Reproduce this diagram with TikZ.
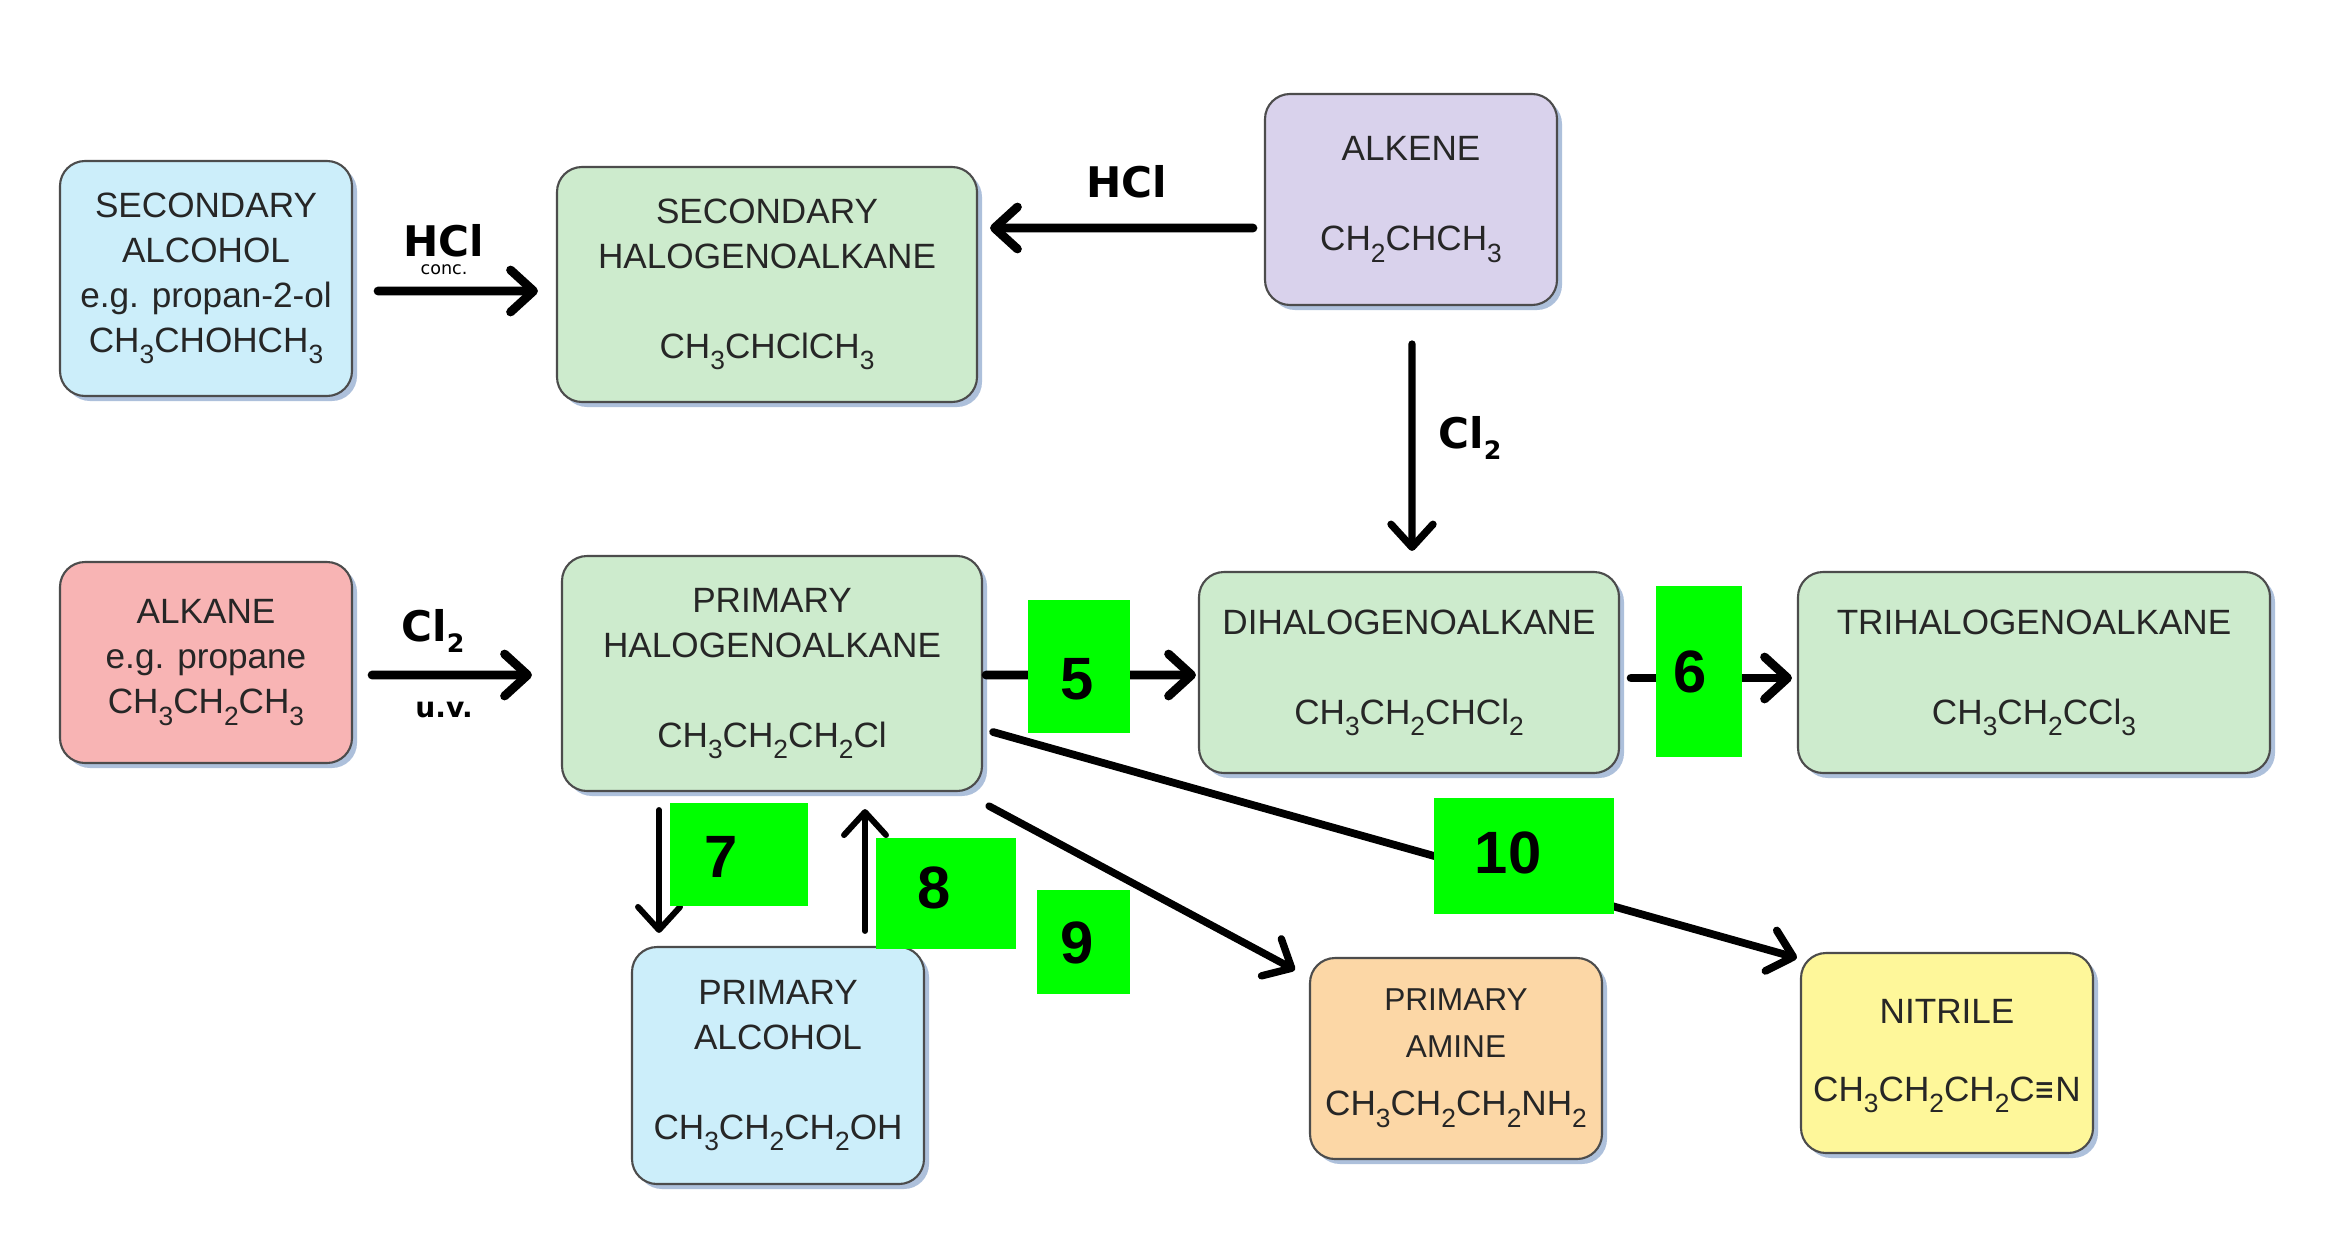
\documentclass[tikz,border=0pt]{standalone}
\usepackage{fontspec}
\setmainfont{Liberation Sans}
\newfontfamily\tagfont{DejaVu Sans}
\usetikzlibrary{arrows.meta,calc,shadows}

\definecolor{alcblue}{RGB}{204,238,250}
\definecolor{halgreen}{RGB}{205,235,205}
\definecolor{enepurple}{RGB}{217,210,236}
\definecolor{anepink}{RGB}{248,180,180}
\definecolor{amineorange}{RGB}{252,215,166}
\definecolor{nityellow}{RGB}{254,247,154}
\definecolor{stepgreen}{RGB}{0,255,0}
\definecolor{shadowblue}{RGB}{165,186,216}

% chemical subscript
\newcommand{\sbs}[1]{\raisebox{-0.6ex}{\scalebox{0.75}{#1}}}
\newcommand{\rsub}[1]{\raisebox{-0.45ex}{\scalebox{0.6}{#1}}}

\tikzset{
  compound/.style={draw=black!70, line width=0.6pt, rounded corners=0.25cm,
    align=center, inner sep=0pt, text=black!85, font=\fontsize{10}{12.8}\selectfont,
    drop shadow={shadow xshift=0.05cm, shadow yshift=-0.05cm, fill=shadowblue, opacity=0.9}},
  rxn/.style={line width=2.5pt, line cap=round, -{Straight Barb[round,length=2.3mm,width=4.2mm]}},
  thinrxn/.style={line width=1.7pt},
  reagent/.style={inner sep=0pt, font={\tagfont\bfseries\fontsize{12}{14}\selectfont}},
  stepbox/.style={fill=stepgreen, inner sep=0pt},
  stepnum/.style={inner sep=0pt, font={\bfseries\fontsize{17}{17}\selectfont}}
}

\begin{document}
\begin{tikzpicture}
\useasboundingbox[fill=white] (0,0) rectangle (23.36,-12.44);

% compounds
\node[compound, fill=alcblue, minimum width=2.92cm, minimum height=2.35cm] (salc) at (2.06,-2.785)
  {SECONDARY\\ALCOHOL\\e.g. propan-2-ol\\CH\sbs{3}CHOHCH\sbs{3}};
\node[compound, fill=halgreen, minimum width=4.20cm, minimum height=2.35cm] (shal) at (7.67,-2.845)
  {SECONDARY\\HALOGENOALKANE\\[12.8pt]CH\sbs{3}CHClCH\sbs{3}};
\node[compound, fill=enepurple, minimum width=2.92cm, minimum height=2.11cm] (alkene) at (14.11,-1.995)
  {ALKENE\\[12.8pt]CH\sbs{2}CHCH\sbs{3}};
\node[compound, fill=anepink, minimum width=2.92cm, minimum height=2.01cm] (alkane) at (2.06,-6.625)
  {ALKANE\\e.g. propane\\CH\sbs{3}CH\sbs{2}CH\sbs{3}};
\node[compound, fill=halgreen, minimum width=4.20cm, minimum height=2.35cm] (phal) at (7.72,-6.735)
  {PRIMARY\\HALOGENOALKANE\\[12.8pt]CH\sbs{3}CH\sbs{2}CH\sbs{2}Cl};
\node[compound, fill=halgreen, minimum width=4.20cm, minimum height=2.01cm] (dhal) at (14.09,-6.725)
  {DIHALOGENOALKANE\\[12.8pt]CH\sbs{3}CH\sbs{2}CHCl\sbs{2}};
\node[compound, fill=halgreen, minimum width=4.72cm, minimum height=2.01cm] (thal) at (20.34,-6.725)
  {TRIHALOGENOALKANE\\[12.8pt]CH\sbs{3}CH\sbs{2}CCl\sbs{3}};
\node[compound, fill=alcblue, minimum width=2.92cm, minimum height=2.37cm] (palc) at (7.78,-10.655)
  {PRIMARY\\ALCOHOL\\[12.8pt]CH\sbs{3}CH\sbs{2}CH\sbs{2}OH};
\node[compound, fill=amineorange, minimum width=2.92cm, minimum height=2.01cm,
  font=\fontsize{9}{13.5}\selectfont] (pamine) at (14.56,-10.585)
  {PRIMARY\\AMINE\\[3pt]{\fontsize{10}{12}\selectfont CH\sbs{3}CH\sbs{2}CH\sbs{2}NH\sbs{2}}\\[-10pt]\mbox{}};
\node[compound, fill=nityellow, minimum width=2.92cm, minimum height=2.00cm] (nitrile) at (19.47,-10.53)
  {\mbox{}\\[-4.2pt]NITRILE\\[9.5pt]CH\sbs{3}CH\sbs{2}CH\sbs{2}C{\tagfont\scalebox{0.7}[1]{≡}}N};

% reactions
\draw[rxn] ($(salc.east)+(0.25,-0.125)$) -- ($(shal.west)+(-0.18,-0.065)$);
\draw[rxn] ($(alkene.west)+(-0.11,-0.285)$) -- ($(shal.east)+(0.12,0.565)$);
\draw[rxn, line width=2.1pt] ($(alkene.south)+(0.01,-0.38)$) -- ($(dhal.north)+(0.03,0.20)$);
\draw[rxn] ($(alkane.east)+(0.19,-0.125)$) -- ($(phal.west)+(-0.29,-0.015)$);
\draw[rxn] ($(phal.east)+(0.03,-0.015)$) -- ($(dhal.west)+(-0.02,-0.025)$);
\draw[rxn] ($(dhal.east)+(0.11,-0.055)$) -- ($(thal.west)+(-0.05,-0.055)$);
\draw[rxn, thinrxn] ($(phal.south)+(-1.13,-0.18)$) -- ($(palc.north)+(-1.19,0.13)$);
\draw[rxn, thinrxn] ($(palc.north)+(0.87,0.15)$) -- ($(phal.south)+(0.93,-0.17)$);
\draw[rxn, line width=2.1pt] ($(phal.south east)+(0.06,-0.14)$) -- ($(pamine.north west)+(-0.14,-0.13)$);
\draw[rxn, line width=2.2pt] ($(phal.east)+(0.10,-0.585)$) -- ($(nitrile.north west)+(-0.03,-0.06)$);

% reagents
\node[reagent] (hcl1) at (4.44,-2.41) {HCl};
\node[inner sep=0pt, font={\tagfont\fontsize{5}{6}\selectfont}] (conc) at (4.44,-2.70) {conc.};
\node[reagent] (hcl2) at (11.27,-1.82) {HCl};
\node[reagent] (cl1) at (4.33,-6.31) {Cl\rsub{2}};
\node[reagent, font={\tagfont\bfseries\fontsize{8}{9}\selectfont}] (uv) at (4.44,-7.10) {u.v.};
\node[reagent] (cl2) at (14.70,-4.38) {Cl\rsub{2}};

% step numbers
\node[stepbox, minimum width=1.02cm, minimum height=1.33cm,
  label={[stepnum, xshift=-0.02cm, yshift=-0.13cm]center:5}] (s5) at (10.79,-6.665) {};
\node[stepbox, minimum width=0.86cm, minimum height=1.71cm,
  label={[stepnum, xshift=-0.09cm]center:6}] (s6) at (16.99,-6.715) {};
\node[stepbox, minimum width=1.38cm, minimum height=1.03cm,
  label={[stepnum, xshift=-0.18cm, yshift=-0.025cm]center:7}] (s7) at (7.39,-8.545) {};
\node[stepbox, minimum width=1.40cm, minimum height=1.11cm,
  label={[stepnum, xshift=-0.12cm, yshift=0.055cm]center:8}] (s8) at (9.46,-8.935) {};
\node[stepbox, minimum width=0.93cm, minimum height=1.04cm,
  label={[stepnum, xshift=-0.065cm, yshift=-0.01cm]center:9}] (s9) at (10.835,-9.42) {};
\node[stepbox, minimum width=1.80cm, minimum height=1.16cm,
  label={[stepnum, xshift=-0.16cm, yshift=0.03cm]center:10}] (s10) at (15.24,-8.56) {};
\end{tikzpicture}
\end{document}
